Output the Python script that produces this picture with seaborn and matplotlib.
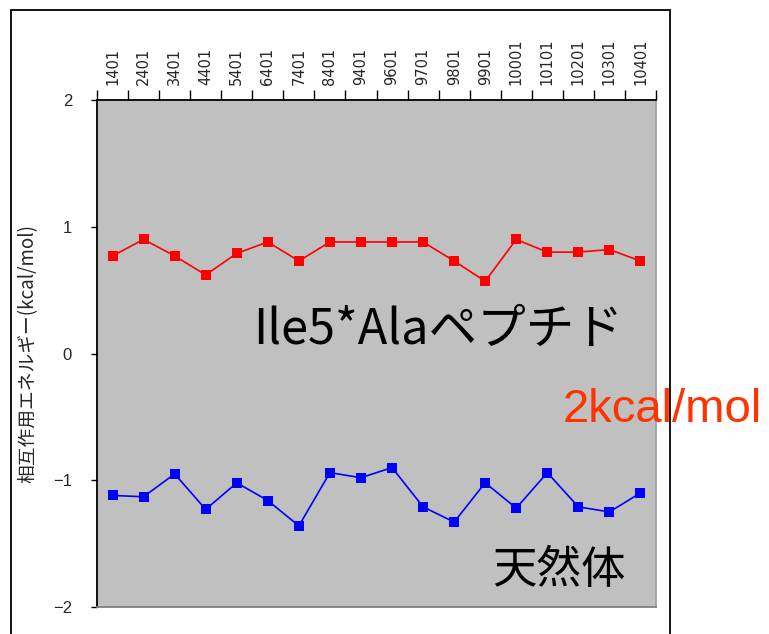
import numpy as np
import pandas as pd
import seaborn as sns
import matplotlib.pyplot as plt
from matplotlib.patches import Rectangle

# residue labels along the top axis
residues = ['1401', '2401', '3401', '4401', '5401', '6401', '7401', '8401', '9401',
            '9601', '9701', '9801', '9901', '10001', '10101', '10201', '10301', '10401']

# interaction energies (kcal/mol)
mutant = [0.77, 0.90, 0.77, 0.62, 0.79, 0.88, 0.73, 0.88, 0.88,
          0.88, 0.88, 0.73, 0.57, 0.90, 0.80, 0.80, 0.82, 0.73]
native = [-1.12, -1.13, -0.95, -1.23, -1.02, -1.16, -1.36, -0.94, -0.98,
          -0.90, -1.21, -1.33, -1.02, -1.22, -0.94, -1.21, -1.25, -1.10]

df = pd.DataFrame({
    'residue': residues * 2,
    'energy': mutant + native,
    'kind': ['mutant'] * len(residues) + ['native'] * len(residues),
})

sns.set_style('white')
plt.rcParams['font.family'] = ['Liberation Sans', 'Noto Sans CJK JP', 'DejaVu Sans']

fig = plt.figure(figsize=(7.69, 6.34), dpi=100)
ax = fig.add_axes([97 / 769, 27 / 634, 559 / 769, 507 / 634])

# outer chart border (runs off the bottom of the picture)
fig.patches.append(Rectangle((11 / 769, -0.1), 659 / 769, 1.1 - 10 / 634,
                             transform=fig.transFigure, fill=False,
                             edgecolor='black', linewidth=1.3))

sns.lineplot(data=df, x='residue', y='energy', hue='kind', sort=False,
             palette={'mutant': '#FF0000', 'native': '#0000FF'},
             marker='s', markersize=7, markeredgewidth=0, linewidth=1.2,
             legend=False, ax=ax)

ax.set_facecolor('#C0C0C0')
ax.set_xlim(-0.5, len(residues) - 0.5)
ax.set_ylim(-2, 2)

# x labels at top, tick marks on category boundaries
ax.xaxis.tick_top()
ax.set_xticks(np.arange(len(residues)))
ax.set_xticklabels(residues, rotation=90, fontsize=10.5, family='DejaVu Sans')
ax.set_xticks(np.arange(len(residues) + 1) - 0.5, minor=True)
ax.tick_params(axis='x', which='major', length=0, pad=11)
ax.tick_params(axis='x', which='minor', top=True, length=7, width=1, color='black')

ax.set_yticks([-2, -1, 0, 1, 2])
ax.set_yticklabels(['\u22122', '\u22121', '0', '1', '2'], fontsize=12)
ax.tick_params(axis='y', left=True, length=4, width=1, color='black', pad=14)

ax.set_xlabel('')
ax.set_ylabel('相互作用エネルギー(kcal/mol)', fontsize=13.5,
              family=['Noto Sans CJK JP', 'DejaVu Sans'], labelpad=10)

for side in ['left', 'top']:
    ax.spines[side].set_color('black')
    ax.spines[side].set_linewidth(1.3)
ax.spines['right'].set_color('#A0A0A0')
ax.spines['bottom'].set_color('#808080')
ax.spines['right'].set_linewidth(1.3)
ax.spines['bottom'].set_linewidth(1.3)

fig.text(253 / 769, 1 - 330 / 634, 'Ile5*Alaペプチド', fontsize=35, color='black',
         family=['Noto Sans CJK JP', 'DejaVu Sans'], va='center', ha='left')
fig.text(563 / 769, 1 - 410 / 634, '2kcal/mol', fontsize=34, color='#FF3300',
         family='Liberation Sans', va='center', ha='left')
fig.text(492 / 769, 1 - 570 / 634, '天然体', fontsize=32, color='black',
         family=['Noto Sans CJK JP', 'DejaVu Sans'], va='center', ha='left')

fig.savefig('out.png', dpi=100)
